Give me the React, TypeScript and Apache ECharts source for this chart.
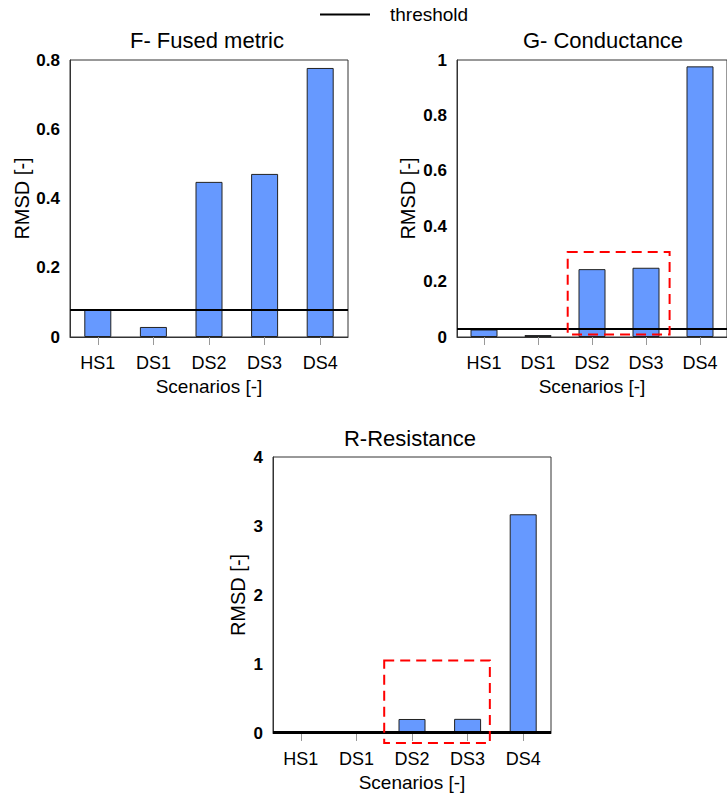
import React, { useEffect, useRef } from "react";
import * as echarts from "echarts";

const categories = ["HS1", "DS1", "DS2", "DS3", "DS4"];
const fusedValues = [0.078, 0.029, 0.448, 0.471, 0.777];
const conductanceValues = [0.027, 0.007, 0.245, 0.25, 0.977];
const resistanceValues = [0.02, 0.01, 0.203, 0.205, 3.17];
const thresholds = [0.078, 0.03, 0.015];
const panelTitles = ["F- Fused metric", "G- Conductance", "R-Resistance"];
const yMax = [0.8, 1, 4];
const yInterval = [0.2, 0.2, 1];
// highlight boxes: [from category index, to category index, y bottom, y top]
const conductanceBox = [2, 3, 0.009, 0.307];
const resistanceBox = [2, 3, -0.145, 1.05];

const FONT = "'Liberation Sans', Arial, Helvetica, sans-serif";

export default function App() {
  const ref = useRef<HTMLDivElement>(null);
  useEffect(() => {
    const chart = echarts.init(ref.current!, null, { renderer: "svg" });
    const grids = [
      { left: 70, top: 60, width: 278, height: 277 },
      { left: 457, top: 60, width: 278, height: 277 },
      { left: 273, top: 457, width: 278, height: 276 },
    ];
    const nameGaps = [38, 39, 25];
    const seriesData = [fusedValues, conductanceValues, resistanceValues];

    const xAxes = grids.map((_, i) => ({
      type: "category",
      gridIndex: i,
      data: categories,
      name: "Scenarios [-]",
      nameLocation: "middle",
      nameGap: 40,
      nameTextStyle: { fontSize: 19, color: "#000", fontFamily: FONT },
      axisLine: { show: true, lineStyle: { color: "#333", width: 1 } },
      axisTick: { show: true, alignWithLabel: true, length: 8, lineStyle: { color: "#999" } },
      axisLabel: { fontSize: 18, color: "#000", margin: 17, fontFamily: FONT },
      splitLine: { show: false },
    }));
    const yAxes = grids.map((_, i) => ({
      type: "value",
      gridIndex: i,
      min: 0,
      max: yMax[i],
      interval: yInterval[i],
      name: "RMSD [-]",
      nameLocation: "middle",
      nameGap: nameGaps[i],
      nameTextStyle: { fontSize: 20, color: "#000", fontFamily: FONT },
      axisLine: { show: true, lineStyle: { color: "#333" } },
      axisTick: { show: false },
      axisLabel: { fontSize: 17, fontWeight: "bold", color: "#000", margin: 10, fontFamily: FONT },
      splitLine: { show: false },
    }));

    const barSeries = seriesData.map((d, i) => ({
      type: "bar",
      name: panelTitles[i],
      xAxisIndex: i,
      yAxisIndex: i,
      data: d,
      barWidth: 27,
      itemStyle: { color: "#6699ff", borderColor: "#222", borderWidth: 1 },
      markLine: {
        silent: true,
        symbol: ["none", "none"],
        label: { show: false },
        lineStyle: { color: "#000", width: i === 2 ? 3 : 2, type: "solid" },
        data: [{ yAxis: thresholds[i] }],
      },
    }));

    const boxSeries = (box: number[], axis: number, lf: number, rf: number) => ({
      type: "custom",
      xAxisIndex: axis,
      yAxisIndex: axis,
      clip: false,
      silent: true,
      z: 10,
      encode: { x: [0, 1], y: [2, 3] },
      data: [box],
      renderItem: (params: any, api: any) => {
        const p0 = api.coord([api.value(0), api.value(3)]);
        const p1 = api.coord([api.value(1), api.value(2)]);
        const band = api.size([1, 0])[0];
        const x0 = p0[0] - band * lf;
        const x1 = p1[0] + band * rf;
        return {
          type: "rect",
          shape: { x: x0, y: p0[1], width: x1 - x0, height: p1[1] - p0[1] },
          style: { fill: "none", stroke: "#ff0000", lineWidth: 2, lineDash: [10, 6] },
        };
      },
    });

    const titlePos = [
      [207, 40],
      [603, 40],
      [410, 438],
    ];

    chart.setOption({
      animation: false,
      backgroundColor: "#fff",
      textStyle: { fontFamily: FONT },
      grid: grids.map((g) => ({
        ...g,
        show: true,
        borderColor: "#333",
        borderWidth: 1,
        backgroundColor: "transparent",
      })),
      xAxis: xAxes,
      yAxis: yAxes,
      legend: {
        data: [{ name: "threshold", icon: "rect" }],
        left: 320,
        top: 5,
        padding: 0,
        itemWidth: 50,
        itemHeight: 2,
        textStyle: { fontSize: 19, color: "#000", fontFamily: FONT, padding: [0, 0, 0, 15] },
      },
      graphic: panelTitles.map((t, i) => ({
        type: "text",
        x: titlePos[i][0],
        y: titlePos[i][1],
        style: {
          text: t,
          fontSize: 22,
          fontFamily: FONT,
          fill: "#000",
          textAlign: "center",
          textVerticalAlign: "middle",
        },
      })),
      series: [
        ...barSeries,
        {
          type: "line",
          name: "threshold",
          xAxisIndex: 0,
          yAxisIndex: 0,
          data: [],
          color: "#000",
          lineStyle: { color: "#000", width: 2 },
          itemStyle: { color: "#000" },
        },
        boxSeries(conductanceBox, 1, 0.45, 0.437),
        boxSeries(resistanceBox, 2, 0.5, 0.4),
      ],
    });
    return () => chart.dispose();
  }, []);
  return (
    <div
      ref={ref}
      style={{ position: "fixed", left: 0, top: 0, width: 727, height: 798 }}
    />
  );
}
